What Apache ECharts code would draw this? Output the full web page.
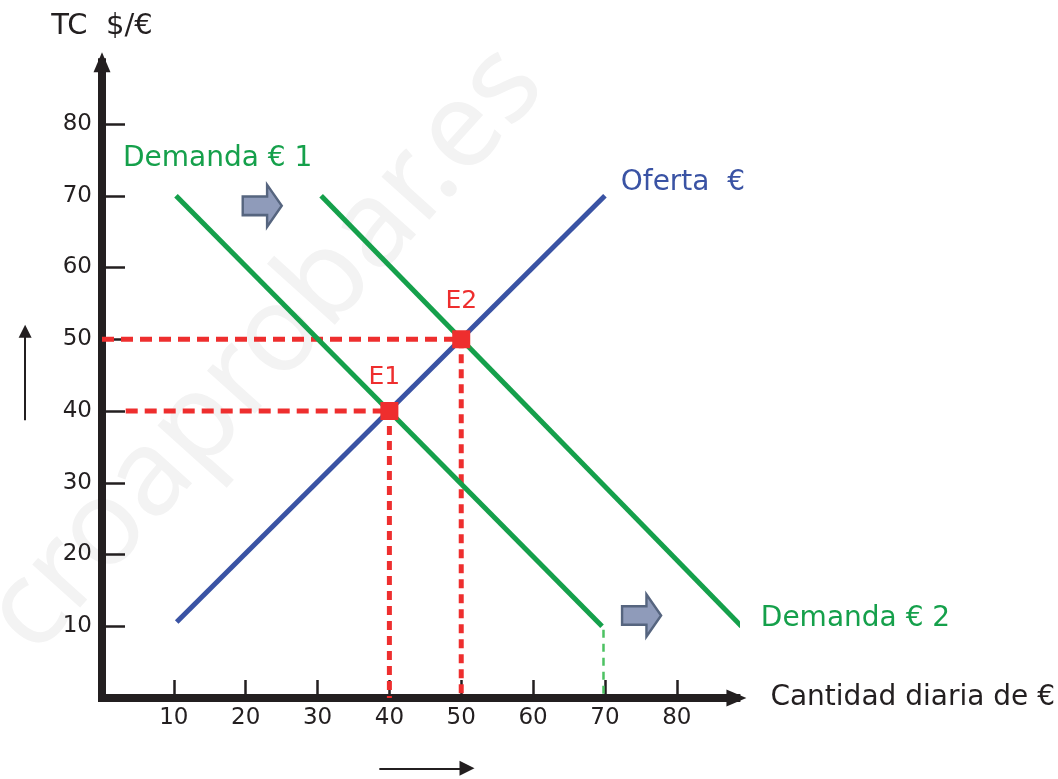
<!DOCTYPE html>
<html>
<head>
<meta charset="utf-8">
<script src="https://cdn.jsdelivr.net/npm/echarts@6/dist/echarts.min.js"></script>
<style>
html,body{margin:0;padding:0;background:#fff;}
#chart{width:1058px;height:779px;}
</style>
</head>
<body>
<div id="chart"></div>
<script>
// ---- data ----
const xTicks = [10, 20, 30, 40, 50, 60, 70, 80];
const yTicks = [10, 20, 30, 40, 50, 60, 70, 80];
const oferta = [[10.4, 10.6], [70, 70]];
const demanda1 = [[10.3, 70], [69.6, 10]];
const demanda2 = [[30.5, 70], [89, 10]];
const demanda1Drop = [[69.8, 9.5], [69.8, 0.5]];
const equilibria = [['E1', 40, 40], ['E2', 50, 50]];
const guideH40 = [[3.3, 40], [40, 40]];
const guideH50 = [[0, 50], [50, 50]];
const guideV40 = [[40, 40], [40, 0]];
const guideV50 = [[50, 50], [50, 0]];
const shiftArrows = [[22.3, 68.6], [75.1, 11.5]];
const priceArrow = [[-10.7, 38.7], [-10.7, 51.1]];
const qtyArrow = [[38.6, -9.8], [50.8, -9.8]];

const FONT = 'DejaVu Sans';
const BLACK = '#231f20';
const GREEN = '#15a04b';
const BLUE = '#3a53a4';
const RED = '#ee2e2e';

const chart = echarts.init(document.getElementById('chart'), null, {renderer: 'canvas'});

function lineSeries(data, color, width, type, z) {
  return {
    type: 'line', data: data, symbol: 'none', showSymbol: false, clip: false,
    lineStyle: {color: color, width: width, type: type || 'solid', cap: 'butt', opacity: 1},
    silent: true, z: z || 2, animation: false
  };
}

const option = {
  animation: false,
  backgroundColor: '#ffffff',
  graphic: {
    elements: [{
      type: 'text', x: 266, y: 350, rotation: 48 * Math.PI / 180, z: -10,
      style: {text: 'croaprobar.es', font: '120px "Noto Sans"', fill: '#f3f3f3', align: 'center', verticalAlign: 'middle'}
    }]
  },
  grid: {left: 102, right: 320.2, top: 62.3, bottom: 81},
  xAxis: {
    type: 'value', min: 0, max: 88.3,
    name: 'Cantidad diaria de €', nameLocation: 'end', nameGap: 34,
    nameTextStyle: {fontFamily: FONT, fontSize: 28, color: BLACK, padding: [0, 0, 16, 0]},
    axisLine: {show: true, onZero: false, symbol: ['none', 'triangle'], symbolSize: [17, 20],
      lineStyle: {color: BLACK, width: 8, cap: 'square'}},
    axisTick: {show: true, inside: true, length: 18, customValues: xTicks, lineStyle: {color: BLACK, width: 2.5}},
    axisLabel: {customValues: xTicks, fontFamily: FONT, fontSize: 23, color: BLACK, margin: 9},
    splitLine: {show: false}
  },
  yAxis: {
    type: 'value', min: 0, max: 88.6,
    name: 'TC  $/€', nameLocation: 'end', nameGap: 21,
    nameTextStyle: {fontFamily: FONT, fontSize: 29, color: BLACK, align: 'center'},
    axisLine: {show: true, onZero: false, symbol: ['none', 'triangle'], symbolSize: [17, 20],
      lineStyle: {color: BLACK, width: 8, cap: 'square'}},
    axisTick: {show: true, inside: true, length: 23, customValues: yTicks, lineStyle: {color: BLACK, width: 2.5}},
    axisLabel: {customValues: yTicks, fontFamily: FONT, fontSize: 23, color: BLACK, margin: 10},
    splitLine: {show: false}
  },
  series: [
    lineSeries(guideH40, RED, 5, [12, 7], 3),
    lineSeries(guideH50, RED, 5, [12, 7], 3),
    lineSeries(guideV40, RED, 5, [9, 6], 3),
    lineSeries(guideV50, RED, 5, [9, 6], 3),
    lineSeries(demanda1Drop, '#4cc262', 2.5, [8, 6], 2),
    lineSeries(demanda1, GREEN, 5, 'solid', 4),
    lineSeries(demanda2, GREEN, 5, 'solid', 4),
    lineSeries(oferta, BLUE, 5, 'solid', 5),
    {
      type: 'scatter', z: 6, clip: false, silent: true,
      symbol: 'rect', symbolSize: 18,
      itemStyle: {color: RED, opacity: 1},
      data: equilibria.map(function (e, i) {
        return {
          name: e[0], value: [e[1], e[2]],
          label: {show: true, position: 'top', formatter: e[0], distance: i === 0 ? 12 : 16,
            offset: i === 0 ? [-5, 0] : [0, 0],
            fontFamily: FONT, fontSize: 25, color: RED, opacity: 1}
        };
      })
    },
    {
      type: 'scatter', z: 6, clip: false, silent: true,
      symbol: 'path://M0,12 L25,12 L25,0 L40,21.5 L25,43 L25,31 L0,31 Z',
      symbolSize: [39, 42], symbolKeepAspect: false,
      itemStyle: {color: '#8f9bba', borderColor: '#56657f', borderWidth: 2.5, opacity: 1},
      data: shiftArrows
    },
    {
      type: 'lines', coordinateSystem: 'cartesian2d', clip: false, silent: true, z: 6,
      symbol: ['none', 'triangle'],
      lineStyle: {color: BLACK, width: 2, opacity: 1},
      data: [
        {coords: priceArrow, symbolSize: [17, 13]},
        {coords: qtyArrow, symbolSize: [19, 15]}
      ]
    },
    {
      type: 'scatter', z: 7, clip: false, silent: true, symbolSize: 0,
      itemStyle: {opacity: 1},
      label: {show: true, position: 'right', distance: 0, fontFamily: FONT, fontSize: 28, opacity: 1,
        formatter: function (p) { return p.name; }},
      data: [
        {name: 'Demanda € 1', value: [2.92, 75.2], label: {color: GREEN}},
        {name: 'Oferta  €', value: [72.2, 71.8], label: {color: BLUE}},
        {name: 'Demanda € 2', value: [91.7, 11.0], label: {color: GREEN}}
      ]
    }
  ]
};
chart.setOption(option);
</script>
</body>
</html>
